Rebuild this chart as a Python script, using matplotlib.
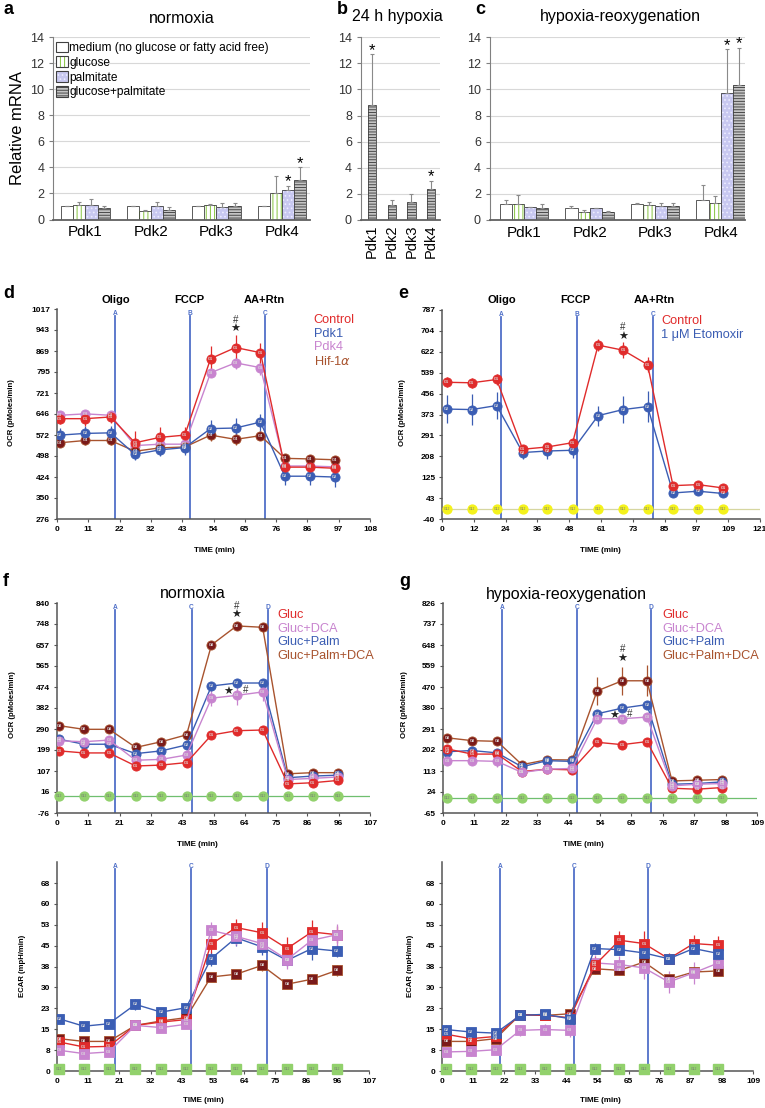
import numpy as np
import matplotlib
matplotlib.use('Agg')
import matplotlib.pyplot as plt
import matplotlib.patches as mpatches

plt.rcParams['font.family'] = ['Liberation Sans', 'DejaVu Sans']
plt.rcParams['hatch.linewidth'] = 0.7

W, H = 765, 1108

# ---------------- relative mRNA (panels a-c) ----------------
genes = ['Pdk1', 'Pdk2', 'Pdk3', 'Pdk4']
media = ['medium (no glucose or fatty acid free)', 'glucose', 'palmitate', 'glucose+palmitate']

norm_medium = [1.0, 1.02, 1.0, 1.0]
norm_glucose = [1.1, 0.65, 1.12, 2.0]
norm_palm = [1.15, 1.05, 0.95, 2.25]
norm_gp = [0.85, 0.7, 1.05, 3.0]
norm_medium_err = [0.0, 0.05, 0.0, 0.0]
norm_glucose_err = [0.25, 0.1, 0.08, 1.35]
norm_palm_err = [0.4, 0.3, 0.3, 0.35]
norm_gp_err = [0.15, 0.25, 0.25, 1.0]
norm_sig = [(2, 3), (3, 3)]

hyp24 = [8.8, 1.15, 1.4, 2.4]
hyp24_err = [3.9, 0.4, 0.6, 0.6]
hyp24_sig = [0, 3]

reox_medium = [1.2, 0.9, 1.2, 1.55]
reox_glucose = [1.25, 0.6, 1.15, 1.3]
reox_palm = [1.0, 0.9, 1.1, 9.75]
reox_gp = [0.9, 0.65, 1.05, 10.35]
reox_medium_err = [0.3, 0.15, 0.1, 1.1]
reox_glucose_err = [0.65, 0.15, 0.25, 0.55]
reox_palm_err = [0.0, 0.0, 0.2, 3.35]
reox_gp_err = [0.3, 0.05, 0.25, 2.85]
reox_sig = [(2, 3), (3, 3)]

# ---------------- Seahorse OCR / ECAR ----------------
# panel d
d_time = [1.0, 9.7, 18.5, 26.9, 35.5, 44.1, 53.0, 61.6, 70.2, 78.6, 87.2, 95.9]
d_control = [630, 630, 636, 545, 564, 572, 842, 881, 863, 459, 459, 455]
d_pdk1 = [572, 578, 580, 504, 520, 528, 595, 597, 618, 427, 427, 424]
d_pdk4 = [642, 647, 642, 535, 540, 540, 792, 827, 810, 463, 463, 460]
d_hif = [545, 553, 553, 515, 527, 530, 572, 557, 570, 490, 488, 485]
d_control_err = [20, 25, 20, 40, 35, 30, 45, 45, 35, 25, 40, 40]
d_pdk1_err = [25, 25, 25, 20, 20, 25, 30, 35, 30, 30, 30, 35]
d_pdk4_err = [15, 15, 15, 15, 15, 15, 15, 20, 25, 20, 20, 20]
d_hif_err = [15, 15, 15, 15, 15, 15, 20, 20, 15, 15, 15, 15]
d_xlabels = ['0', '11', '22', '32', '43', '54', '65', '76', '86', '97', '108']
d_inject = [20.0, 45.9, 71.7]

# panel e
e_time = [1.8, 11.3, 20.8, 30.7, 40.0, 49.7, 59.4, 68.9, 78.2, 87.9, 97.4, 106.9]
e_control = [501, 499, 512, 236, 245, 262, 648, 628, 571, 92, 96, 83]
e_etomoxir = [395, 393, 409, 223, 229, 232, 369, 393, 405, 63, 70, 61]
e_control_err = [20, 20, 22, 10, 10, 12, 25, 32, 30, 10, 10, 10]
e_etomoxir_err = [55, 60, 55, 25, 30, 30, 40, 55, 60, 10, 10, 10]
e_xlabels = ['0', '12', '24', '36', '48', '61', '73', '85', '97', '109', '121']
e_inject = [22.4, 51.3, 80.2]

# panel f (normoxia)
f_time = [0.7, 9.2, 17.8, 26.9, 35.7, 44.3, 52.8, 61.4, 70.3, 78.9, 87.4, 96.0]
f_gluc = [195, 186, 186, 129, 133, 144, 264, 283, 286, 51, 56, 66]
f_dca = [239, 235, 242, 154, 158, 177, 425, 437, 452, 70, 75, 81]
f_palm = [246, 224, 224, 183, 195, 221, 478, 491, 491, 78, 85, 89]
f_palmdca = [305, 289, 289, 210, 235, 265, 657, 740, 734, 95, 100, 100]
f_gluc_err = [12, 10, 10, 10, 10, 10, 12, 10, 10, 8, 8, 8]
f_dca_err = [15, 12, 12, 12, 12, 12, 35, 40, 40, 10, 10, 10]
f_palm_err = [12, 10, 10, 10, 10, 10, 15, 12, 12, 8, 8, 8]
f_palmdca_err = [12, 10, 10, 10, 10, 10, 12, 12, 12, 8, 8, 8]
f_ecar_gluc = [10.5, 8.7, 8.9, 16.5, 17.7, 18.6, 45.8, 51.9, 50.0, 44.3, 50.3, 49.3]
f_ecar_dca = [7.5, 6.3, 6.9, 16.5, 15.7, 16.9, 50.9, 48.7, 46.1, 40.3, 47.3, 49.3]
f_ecar_palm = [18.9, 16.2, 17.1, 24.1, 21.3, 22.9, 40.6, 48.2, 44.9, 40.0, 44.3, 43.4]
f_ecar_palmdca = [11.7, 10.7, 10.7, 16.5, 18.1, 19.3, 34.0, 35.0, 38.2, 31.4, 33.2, 36.4]
f_ecar_gluc_err = [1.5, 1.5, 1.5, 1.2, 1.2, 1.2, 3.0, 3.0, 4.0, 4.0, 4.5, 3.0]
f_ecar_dca_err = [1.5, 1.5, 1.5, 1.2, 1.2, 1.2, 3.0, 3.0, 3.0, 3.5, 3.0, 4.0]
f_ecar_palm_err = [1.5, 1.2, 1.2, 2.0, 1.5, 1.5, 2.5, 3.0, 3.0, 2.0, 4.0, 2.0]
f_ecar_palmdca_err = [1.2, 1.2, 1.2, 1.0, 1.0, 1.0, 1.0, 1.0, 2.0, 1.0, 1.0, 2.0]
f_xlabels = ['0', '11', '21', '32', '43', '53', '64', '75', '86', '96', '107']
f_inject = [19.8, 46.0, 72.0]

# panel g (hypoxia-reoxygenation)
g_time = [1.4, 10.1, 18.8, 27.4, 36.1, 44.8, 53.5, 62.2, 70.8, 79.5, 88.2, 96.9]
g_gluc = [207, 185, 185, 111, 121, 118, 235, 225, 238, 40, 36, 43]
g_dca = [157, 157, 154, 107, 121, 124, 335, 335, 342, 50, 57, 60]
g_palm = [195, 200, 190, 131, 157, 154, 356, 380, 395, 57, 60, 67]
g_palmdca = [254, 242, 239, 140, 161, 160, 453, 496, 496, 71, 74, 77]
g_gluc_err = [15, 12, 12, 10, 10, 10, 15, 12, 12, 10, 12, 10]
g_dca_err = [20, 20, 25, 10, 10, 10, 15, 12, 15, 10, 10, 10]
g_palm_err = [15, 15, 15, 10, 10, 10, 15, 12, 12, 10, 10, 10]
g_palmdca_err = [15, 12, 12, 10, 10, 10, 60, 60, 65, 10, 10, 10]
g_ecar_gluc = [13.3, 11.7, 12.5, 20.4, 20.1, 19.3, 38.2, 47.3, 46.1, 40.6, 46.1, 45.5]
g_ecar_dca = [6.9, 7.1, 7.7, 14.7, 15.0, 14.7, 39.1, 38.5, 37.3, 32.2, 35.5, 39.1]
g_ecar_palm = [15.0, 14.1, 13.7, 20.1, 20.5, 18.9, 44.3, 43.9, 42.7, 40.6, 44.3, 42.5]
g_ecar_palmdca = [10.7, 10.7, 11.7, 20.4, 20.1, 20.7, 37.0, 36.4, 39.4, 33.2, 35.8, 36.2]
g_ecar_gluc_err = [1.5, 1.5, 1.5, 1.5, 1.5, 1.5, 3.0, 3.5, 4.5, 2.0, 3.0, 3.5]
g_ecar_dca_err = [1.5, 1.5, 1.5, 2.0, 2.0, 2.5, 3.0, 3.0, 4.0, 4.0, 4.0, 3.0]
g_ecar_palm_err = [1.5, 1.5, 1.2, 1.2, 1.2, 1.5, 2.0, 2.0, 2.0, 1.5, 2.0, 2.0]
g_ecar_palmdca_err = [1.2, 1.2, 1.2, 1.2, 1.2, 1.2, 1.5, 1.5, 2.0, 1.5, 1.5, 1.5]
g_xlabels = ['0', '11', '22', '33', '44', '54', '65', '76', '87', '98', '109']
g_inject = [20.4, 46.4, 72.2]

ecar_ylabels = ['0', '8', '15', '23', '30', '38', '45', '53', '60', '68']

RED, BLUE, VIOLET, BROWN = '#e02b2b', '#3b5db3', '#c884cf', '#a8532e'
MAROON = '#7a1a1a'
INJ = '#5070c8'

fig = plt.figure(figsize=(7.65, 11.08), dpi=100)


def add_axes_px(l, t, r, b):
    return fig.add_axes([l / W, 1 - b / H, (r - l) / W, (b - t) / H])


def ftext(x, y, s, **kw):
    return fig.text(x / W, 1 - y / H, s, **kw)


bar_styles = [
    dict(fc='white', hatch=None, hc='white'),
    dict(fc='white', hatch='||||', hc='#86c540'),
    dict(fc='#c8c8f0', hatch='....', hc='#ececff'),
    dict(fc='#c4c4c4', hatch='------', hc='#4a4a4a'),
]


def style_bar_axes(ax, xlim):
    ax.set_ylim(0, 14)
    ax.set_yticks(range(0, 15, 2))
    ax.set_xlim(*xlim)
    ax.yaxis.grid(True, color='#d8d8d8', lw=0.8)
    ax.set_axisbelow(True)
    for s in ['top', 'right']:
        ax.spines[s].set_visible(False)
    ax.spines['left'].set_color('#808080')
    ax.spines['bottom'].set_color('#606060')
    ax.spines['bottom'].set_linewidth(1.3)
    ax.tick_params(axis='y', labelsize=9, color='#808080', labelcolor='#333333', length=3)
    ax.tick_params(axis='x', length=0, labelsize=11, pad=4)


def draw_bars(ax, series, errs, styles, width, sig):
    x = np.arange(len(genes))
    n = len(series)
    tops = []
    for i, (vals, err, st) in enumerate(zip(series, errs, styles)):
        pos = x + (i - (n - 1) / 2) * width
        ax.bar(pos, vals, width, color=st['fc'], hatch=st['hatch'], edgecolor=st['hc'], linewidth=0)
        ax.bar(pos, vals, width, fill=False, edgecolor='#404040', linewidth=0.6)
        ax.errorbar(pos, vals, yerr=[np.zeros(len(vals)), err], fmt='none',
                    ecolor='#8a8a8a', elinewidth=0.8, capsize=1.5, capthick=0.8)
        tops.append((pos, np.array(vals) + np.array(err)))
    for si, gi in sig:
        pos, top = tops[si]
        ax.text(pos[gi], top[gi] + 0.3, '*', ha='center', va='center', fontsize=12)
    ax.set_xticks(x)
    ax.set_xticklabels(genes)


# ---- panel a ----
ax = add_axes_px(53.3, 37.3, 310, 219.5)
style_bar_axes(ax, (-0.49, 3.43))
draw_bars(ax, [norm_medium, norm_glucose, norm_palm, norm_gp],
          [norm_medium_err, norm_glucose_err, norm_palm_err, norm_gp_err],
          bar_styles, 0.185, norm_sig)
ax.set_ylabel('Relative mRNA', fontsize=12, labelpad=4)
handles = []
for st in bar_styles:
    p1 = mpatches.Patch(facecolor=st['fc'], hatch=st['hatch'], edgecolor=st['hc'], linewidth=0)
    p2 = mpatches.Patch(fill=False, edgecolor='#404040', linewidth=0.8)
    handles.append((p1, p2))
ax.legend(handles, media, loc='upper left', bbox_to_anchor=(0.0, 0.99), frameon=False,
          fontsize=8.6, handlelength=1.0, handleheight=1.0, handletextpad=0.15,
          labelspacing=0.2, borderaxespad=0.1, borderpad=0.1)
ax.set_title('normoxia', fontsize=11.5, pad=10)
ftext(3, 9, 'a', fontsize=13, fontweight='bold', va='center')

# ---- panel b ----
ax = add_axes_px(361, 37.3, 440, 220)
style_bar_axes(ax, (-0.56, 3.45))
draw_bars(ax, [hyp24], [hyp24_err], [bar_styles[3]], 0.42, [(0, i) for i in hyp24_sig])
ax.tick_params(axis='x', labelrotation=90, labelsize=10.5, pad=3)
ftext(337, 9, 'b', fontsize=13, fontweight='bold', va='center')
ftext(397, 17, '24 h hypoxia', fontsize=11.5, ha='center', va='center')

# ---- panel c ----
ax = add_axes_px(490, 37.3, 745, 220)
style_bar_axes(ax, (-0.52, 3.37))
draw_bars(ax, [reox_medium, reox_glucose, reox_palm, reox_gp],
          [reox_medium_err, reox_glucose_err, reox_palm_err, reox_gp_err],
          bar_styles, 0.185, reox_sig)
ftext(475, 9, 'c', fontsize=13, fontweight='bold', va='center')
ftext(620, 17, 'hypoxia-reoxygenation', fontsize=11.5, ha='center', va='center')


# ---------------- seahorse helper ----------------
def seahorse(ax, t, curves, ylim, yticks, ylabels, xmax, xlabels, inject, inj_names, marker, ms):
    for vals, err, lc, mc, tag in curves:
        ax.errorbar(t, vals, yerr=err, fmt='none', ecolor=lc, elinewidth=0.9, capsize=0, zorder=3)
        ax.plot(t, vals, '-', color=lc, lw=1.0, marker=marker, ms=ms, mfc=mc, mec=lc,
                mew=0.6, zorder=4)
        for ti, vi in zip(t, vals):
            ax.text(ti, vi, tag, fontsize=2.8, color='#dcdcdc', ha='center', va='center',
                    zorder=5, fontweight='bold')
    for xv, nm in zip(inject, inj_names):
        ax.axvline(xv, ymax=0.965, color=INJ, lw=1.3, zorder=2)
        ax.text(xv, 0.997, nm, transform=ax.get_xaxis_transform(), ha='center', va='top',
                fontsize=4.8, fontweight='bold', color=INJ)
    ax.set_xlim(0, xmax)
    ax.set_ylim(*ylim)
    ax.set_xticks(np.linspace(0, xmax, 11))
    ax.set_xticklabels(xlabels, fontsize=6, fontweight='bold')
    ax.set_yticks(yticks)
    ax.set_yticklabels(ylabels, fontsize=6, fontweight='bold')
    for s in ['top', 'right']:
        ax.spines[s].set_visible(False)
    for s in ['left', 'bottom']:
        ax.spines[s].set_color('#555555')
        ax.spines[s].set_linewidth(1.1)
    ax.tick_params(length=2.5, width=0.8, color='#555555', pad=2.5)


def baseline(ax, t, value, color, lcolor, marker, ms):
    if lcolor:
        ax.axhline(value, color=lcolor, lw=0.9, zorder=1)
    ax.plot(t, [value] * len(t), ls='none', marker=marker, ms=ms, mfc=color, mec=color, zorder=3,
            clip_on=False)
    for ti in t:
        ax.text(ti, value, 'G12', fontsize=2.4, color='#777777', ha='center', va='center', zorder=4)


def color_legend(ax, names, colors, x, y, size):
    lines = [plt.Line2D([], [], color=c) for c in colors]
    leg = ax.legend(lines, names, loc='upper left', bbox_to_anchor=(x, y), frameon=False,
                    handlelength=0, handletextpad=0, fontsize=size, labelspacing=0.12,
                    borderaxespad=0, borderpad=0)
    for txt, c in zip(leg.get_texts(), colors):
        txt.set_color(c)
    for h in leg.legend_handles:
        h.set_visible(False)


def star_hash(ax, x, y_hash, y_star, hx=None):
    ax.text(x if hx is None else hx, y_hash, '#', ha='center', va='center', fontsize=7, color='#333333',
            zorder=6)
    ax.text(x, y_star, '\u2605', ha='center', va='center', fontsize=8, color='#222222',
            family='DejaVu Sans', zorder=6)


LEG = 9.2

# ---- panel d ----
ax = add_axes_px(57, 309, 370, 519)
seahorse(ax, d_time,
         [(d_pdk4, d_pdk4_err, VIOLET, VIOLET, 'G3'),
          (d_hif, d_hif_err, BROWN, MAROON, 'G4'),
          (d_pdk1, d_pdk1_err, BLUE, BLUE, 'G2'),
          (d_control, d_control_err, RED, RED, 'G1')],
         (276, 1017), np.linspace(276, 1017, 11),
         ['276', '350', '424', '498', '572', '646', '721', '795', '869', '943', '1017'],
         108, d_xlabels, d_inject, ['A', 'B', 'C'], 'o', 6.6)
color_legend(ax, ['Control', 'Pdk1', 'Pdk4', 'Hif-1$\\alpha$'], [RED, BLUE, VIOLET, BROWN],
             0.82, 0.975, LEG)
star_hash(ax, d_time[7], 978, 945)
ftext(3, 293, 'd', fontsize=13, fontweight='bold', va='center')
for xp, nm in zip([116, 189, 264], ['Oligo', 'FCCP', 'AA+Rtn']):
    ftext(xp, 300, nm, fontsize=8, fontweight='bold', ha='center', va='center')
ftext(12, 413, 'OCR (pMoles/min)', fontsize=5.6, fontweight='bold', rotation=90,
      ha='center', va='center')
ftext(214, 550, 'TIME (min)', fontsize=5.8, fontweight='bold', ha='center', va='center')

# ---- panel e ----
ax = add_axes_px(442, 310, 760, 519)
baseline(ax, e_time, 0, '#f4f21c', '#d6d6a0', 'o', 6.4)
seahorse(ax, e_time,
         [(e_etomoxir, e_etomoxir_err, BLUE, BLUE, 'G2'),
          (e_control, e_control_err, RED, RED, 'G1')],
         (-40, 787), np.linspace(-40, 787, 11),
         ['-40', '43', '125', '208', '291', '373', '456', '539', '622', '704', '787'],
         121, e_xlabels, e_inject, ['A', 'B', 'C'], 'o', 6.6)
color_legend(ax, ['Control', '1 \u03bcM Etomoxir'], [RED, BLUE], 0.69, 0.975, LEG)
star_hash(ax, e_time[7], 718, 681)
ftext(398, 293, 'e', fontsize=13, fontweight='bold', va='center')
for xp, nm in zip([502, 575, 654], ['Oligo', 'FCCP', 'AA+Rtn']):
    ftext(xp, 300, nm, fontsize=8, fontweight='bold', ha='center', va='center')
ftext(403, 413, 'OCR (pMoles/min)', fontsize=5.6, fontweight='bold', rotation=90,
      ha='center', va='center')
ftext(600, 550, 'TIME (min)', fontsize=5.8, fontweight='bold', ha='center', va='center')

f_names = ['Gluc', 'Gluc+DCA', 'Gluc+Palm', 'Gluc+Palm+DCA']
f_colors = [RED, VIOLET, BLUE, BROWN]

# ---- panel f (OCR) ----
ax = add_axes_px(57, 603, 370, 813)
baseline(ax, f_time, 0, '#92d16c', '#6fbf6f', 'o', 6.4)
seahorse(ax, f_time,
         [(f_palmdca, f_palmdca_err, BROWN, MAROON, 'G8'),
          (f_palm, f_palm_err, BLUE, BLUE, 'G2'),
          (f_dca, f_dca_err, VIOLET, VIOLET, 'G3'),
          (f_gluc, f_gluc_err, RED, RED, 'G1')],
         (-76, 840), np.linspace(-76, 840, 11),
         ['-76', '16', '107', '199', '290', '382', '474', '565', '657', '748', '840'],
         107, f_xlabels, f_inject, ['A', 'C', 'D'], 'o', 6.6)
color_legend(ax, f_names, f_colors, 0.705, 0.97, LEG)
star_hash(ax, f_time[7], 825, 786)
star_hash(ax, f_time[7] - 3.0, 462, 452, hx=f_time[7] + 3.2)
ftext(3, 582, 'f', fontsize=13, fontweight='bold', va='center')
ftext(193, 594, 'normoxia', fontsize=11.5, ha='center', va='center')
ftext(13, 705, 'OCR (pMoles/min)', fontsize=5.6, fontweight='bold', rotation=90,
      ha='center', va='center')
ftext(197, 845, 'TIME (min)', fontsize=5.8, fontweight='bold', ha='center', va='center')

# ---- panel g (OCR) ----
ax = add_axes_px(443, 603, 757, 813)
baseline(ax, g_time, 0, '#92d16c', '#6fbf6f', 'o', 6.4)
seahorse(ax, g_time,
         [(g_palmdca, g_palmdca_err, BROWN, MAROON, 'G8'),
          (g_palm, g_palm_err, BLUE, BLUE, 'G2'),
          (g_gluc, g_gluc_err, RED, RED, 'G1'),
          (g_dca, g_dca_err, VIOLET, VIOLET, 'G3')],
         (-65, 826), np.linspace(-65, 826, 11),
         ['-65', '24', '113', '202', '291', '380', '470', '559', '648', '737', '826'],
         109, g_xlabels, g_inject, ['A', 'C', 'D'], 'o', 6.6)
color_legend(ax, f_names, f_colors, 0.7, 0.97, LEG)
star_hash(ax, g_time[7], 629, 587)
star_hash(ax, g_time[7] - 2.6, 353, 345, hx=g_time[7] + 2.6)
ftext(399, 582, 'g', fontsize=13, fontweight='bold', va='center')
ftext(566, 594, 'hypoxia-reoxygenation', fontsize=11.5, ha='center', va='center')
ftext(405, 705, 'OCR (pMoles/min)', fontsize=5.6, fontweight='bold', rotation=90,
      ha='center', va='center')
ftext(583, 845, 'TIME (min)', fontsize=5.8, fontweight='bold', ha='center', va='center')

# ---- panel f (ECAR) ----
ax = add_axes_px(57, 862, 369, 1071)
baseline(ax, f_time, 0.7, '#92d16c', None, 's', 6.5)
seahorse(ax, f_time,
         [(f_ecar_palmdca, f_ecar_palmdca_err, BROWN, MAROON, 'G8'),
          (f_ecar_palm, f_ecar_palm_err, BLUE, BLUE, 'G2'),
          (f_ecar_gluc, f_ecar_gluc_err, RED, RED, 'G1'),
          (f_ecar_dca, f_ecar_dca_err, VIOLET, VIOLET, 'G3')],
         (0, 75.6), np.linspace(0, 68, 10), ecar_ylabels,
         107, f_xlabels, f_inject, ['A', 'C', 'D'], 's', 7.2)
ftext(22, 966, 'ECAR (mpH/min)', fontsize=5.6, fontweight='bold', rotation=90,
      ha='center', va='center')
ftext(203, 1101, 'TIME (min)', fontsize=5.8, fontweight='bold', ha='center', va='center')

# ---- panel g (ECAR) ----
ax = add_axes_px(442, 862, 753, 1071)
baseline(ax, g_time, 0.7, '#92d16c', None, 's', 6.5)
seahorse(ax, g_time,
         [(g_ecar_palmdca, g_ecar_palmdca_err, BROWN, MAROON, 'G8'),
          (g_ecar_dca, g_ecar_dca_err, VIOLET, VIOLET, 'G3'),
          (g_ecar_gluc, g_ecar_gluc_err, RED, RED, 'G1'),
          (g_ecar_palm, g_ecar_palm_err, BLUE, BLUE, 'G2')],
         (0, 75.6), np.linspace(0, 68, 10), ecar_ylabels,
         109, g_xlabels, g_inject, ['A', 'C', 'D'], 's', 7.2)
ftext(411, 966, 'ECAR (mpH/min)', fontsize=5.6, fontweight='bold', rotation=90,
      ha='center', va='center')
ftext(600, 1101, 'TIME (min)', fontsize=5.8, fontweight='bold', ha='center', va='center')

fig.savefig('out.png', dpi=100)
